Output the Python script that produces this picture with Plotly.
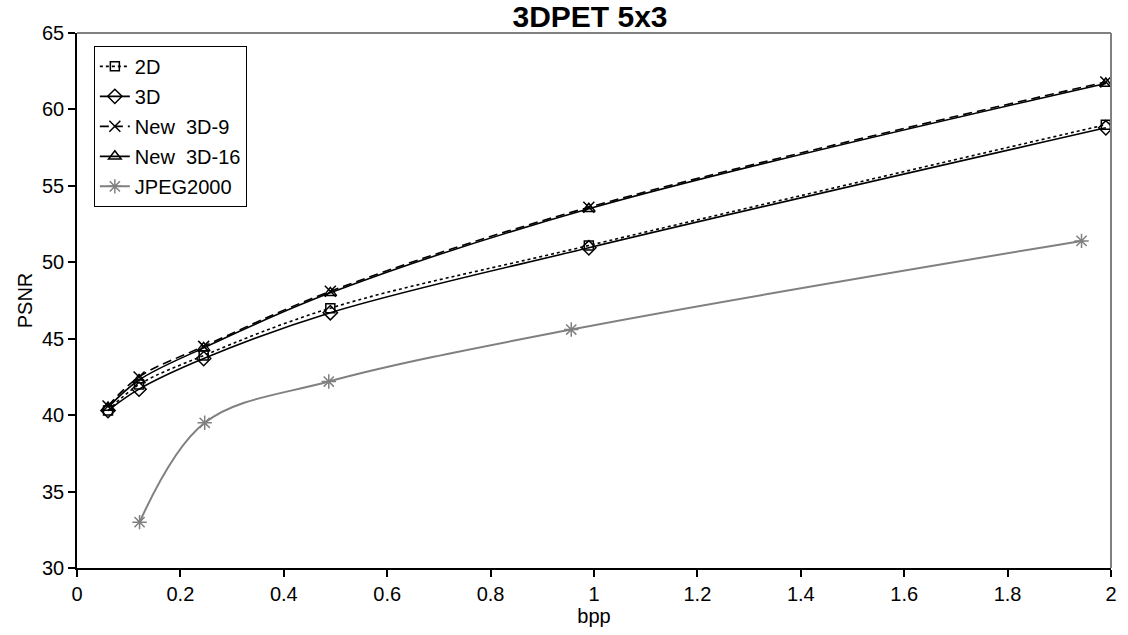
import plotly.graph_objects as go

# Bit rate (bpp) and PSNR (dB) for each coder
bpp = [0.06, 0.12, 0.245, 0.49, 0.99, 1.99]
psnr_2d = [40.3, 42.0, 43.9, 47.0, 51.1, 59.0]
psnr_3d = [40.3, 41.7, 43.7, 46.7, 50.95, 58.8]
psnr_new_3d_9 = [40.6, 42.5, 44.5, 48.1, 53.6, 61.8]
psnr_new_3d_16 = [40.5, 42.3, 44.4, 48.0, 53.5, 61.7]

bpp_jpeg = [0.121, 0.247, 0.487, 0.956, 1.943]
psnr_jpeg = [33.0, 39.5, 42.2, 45.6, 51.4]

x_ticks = [0, 0.2, 0.4, 0.6, 0.8, 1, 1.2, 1.4, 1.6, 1.8, 2]
x_tick_labels = ["0", "0.2", "0.4", "0.6", "0.8", "1", "1.2", "1.4", "1.6", "1.8", "2"]
y_ticks = [30, 35, 40, 45, 50, 55, 60, 65]

FONT = "Liberation Sans, Arial, sans-serif"
BLACK = "#000000"
GREY = "#808080"

series = [
    ("2D", bpp, psnr_2d, BLACK, "dot", "square-open", 9),
    ("3D", bpp, psnr_3d, BLACK, "solid", "diamond-open", 11),
    ("New  3D-9", bpp, psnr_new_3d_9, BLACK, "9px,5px", "x-thin-open", 11),
    ("New  3D-16", bpp, psnr_new_3d_16, BLACK, "solid", "triangle-up-open", 11),
    ("JPEG2000", bpp_jpeg, psnr_jpeg, GREY, "solid", "asterisk-open", 12),
]

fig = go.Figure()
for i, (name, xs, ys, color, dash, symbol, size) in enumerate(series):
    fig.add_trace(go.Scatter(
        x=xs, y=ys, name=name, mode="lines+markers",
        legendgroup=f"g{i}",
        line=dict(color=color, width=2 if color == GREY else 1.6, dash=dash,
                  shape="spline", smoothing=1.0),
        marker=dict(symbol=symbol, size=size, color=color,
                    line=dict(color=color, width=1.5)),
    ))

fig.update_layout(
    width=1128, height=635,
    margin=dict(l=77, r=11, t=33, b=66),
    paper_bgcolor="white", plot_bgcolor="white",
    font=dict(family=FONT, size=20, color=BLACK),
    title=dict(text="<b>3DPET 5x3</b>", x=590 / 1128, xanchor="center",
               y=1 - 16.5 / 635, yanchor="middle",
               font=dict(family=FONT, size=30, color=BLACK)),
    showlegend=True,
    legend=dict(x=0.0163, y=0.976, xanchor="left", yanchor="top",
                bgcolor="white", bordercolor=BLACK, borderwidth=1,
                font=dict(family=FONT, size=20, color=BLACK),
                tracegroupgap=1, itemwidth=30),
    xaxis=dict(range=[0, 2], tickvals=x_ticks, ticktext=x_tick_labels,
               showgrid=False, zeroline=False, showline=True,
               linecolor=BLACK, linewidth=1.5, ticks="outside",
               ticklen=7, tickcolor=BLACK, tickwidth=1.5,
               title=dict(text="bpp", standoff=5,
                          font=dict(family=FONT, size=20))),
    yaxis=dict(range=[30, 65], tickvals=y_ticks,
               showgrid=False, zeroline=False, showline=True,
               linecolor=BLACK, linewidth=1.5, ticks="outside",
               ticklen=7, tickcolor=BLACK, tickwidth=1.5,
               title=dict(text="PSNR", standoff=4,
                          font=dict(family=FONT, size=20))),
)

# Grey frame on the top and right of the plot area
fig.add_shape(type="line", xref="paper", yref="paper", x0=0, x1=1, y0=1, y1=1,
              line=dict(color=GREY, width=2))
fig.add_shape(type="line", xref="paper", yref="paper", x0=1, x1=1, y0=0, y1=1,
              line=dict(color=GREY, width=2))

fig.write_html("out.html")
